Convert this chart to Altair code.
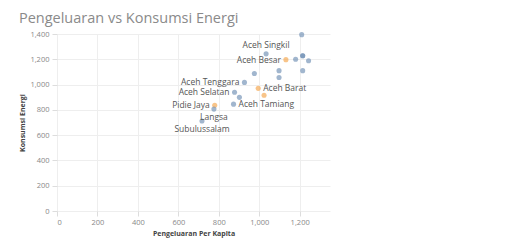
import altair as alt
import pandas as pd

# Data (approximate)
wilayah = ["Banda Aceh", "Aceh Singkil", "Aceh Besar", "Lhokseumawe", "Aceh Jaya", "Aceh Utara",
           "Bireuen", "Gayo Lues", "Aceh Timur", "Aceh Barat", "Nagan Raya", "Aceh Tenggara",
           "Aceh Selatan", "Simeulue", "Aceh Tamiang", "Pidie Jaya", "Langsa", "Subulussalam",
           "Pidie", "Sabang"]
pengeluaran = [1210, 1034, 1132, 1244, 1215, 1215, 1098, 976, 1098, 995, 1024, 927,
               878, 902, 873, 780, 776, 717, 1215, 1180]
energi = [1395, 1243, 1197, 1189, 1228, 1110, 1110, 1087, 1056, 970, 915, 1017,
          939, 899, 845, 837, 806, 712, 1228, 1200]
kelompok = ["A", "A", "B", "A", "A", "A", "A", "A", "A", "B", "B", "A",
            "A", "A", "A", "B", "A", "A", "A", "A"]

label_kiri = ["Aceh Besar", "Aceh Tenggara", "Aceh Selatan", "Pidie Jaya"]
label_kanan = ["Aceh Tamiang", "Aceh Barat"]
label_atas = ["Aceh Singkil"]
label_bawah = ["Langsa", "Subulussalam"]

df = pd.DataFrame({"wilayah": wilayah, "pengeluaran": pengeluaran,
                   "energi": energi, "kelompok": kelompok})

x = alt.X("pengeluaran:Q", title="Pengeluaran Per Kapita",
          scale=alt.Scale(domain=[0, 1350], nice=False),
          axis=alt.Axis(values=[0, 200, 400, 600, 800, 1000, 1200]))
y = alt.Y("energi:Q", title="Konsumsi Energi",
          scale=alt.Scale(domain=[0, 1400]),
          axis=alt.Axis(values=[0, 200, 400, 600, 800, 1000, 1200, 1400], labelPadding=3))

base = alt.Chart(df).encode(x=x, y=y)

points = base.mark_circle(size=26, opacity=0.65).encode(
    color=alt.Color("kelompok:N", legend=None,
                    scale=alt.Scale(domain=["A", "B"], range=["#6f8fb3", "#f5a54a"]))
)

txt = dict(fontSize=8.5, color="#555", font="Open Sans")
t_left = base.mark_text(align="right", dx=-5, baseline="middle", **txt).encode(
    text="wilayah:N").transform_filter(alt.FieldOneOfPredicate(field="wilayah", oneOf=label_kiri))
t_right = base.mark_text(align="left", dx=5, baseline="middle", **txt).encode(
    text="wilayah:N").transform_filter(alt.FieldOneOfPredicate(field="wilayah", oneOf=label_kanan))
t_up = base.mark_text(align="center", dy=-9, baseline="middle", **txt).encode(
    text="wilayah:N").transform_filter(alt.FieldOneOfPredicate(field="wilayah", oneOf=label_atas))
t_down = base.mark_text(align="center", dy=8, baseline="middle", **txt).encode(
    text="wilayah:N").transform_filter(alt.FieldOneOfPredicate(field="wilayah", oneOf=label_bawah))

chart = alt.layer(points, t_left, t_right, t_up, t_down).properties(
    width=273, height=177,
    padding={"left": 10, "top": 2, "right": 5, "bottom": 5},
    title=alt.TitleParams("Pengeluaran vs Konsumsi Energi", anchor="start",
                          fontSize=14.5, font="Open Sans", fontWeight="normal", color="#8a8a8a")
).configure_axis(
    labelFontSize=7.5, labelColor="#888", titleFontSize=7, titleColor="#444",
    gridColor="#eee", domain=False, tickColor="#ddd", labelFont="Open Sans", titleFont="Open Sans"
).configure_view(stroke=None)

chart.save("out.html", embed_options={"renderer": "svg", "actions": False})
